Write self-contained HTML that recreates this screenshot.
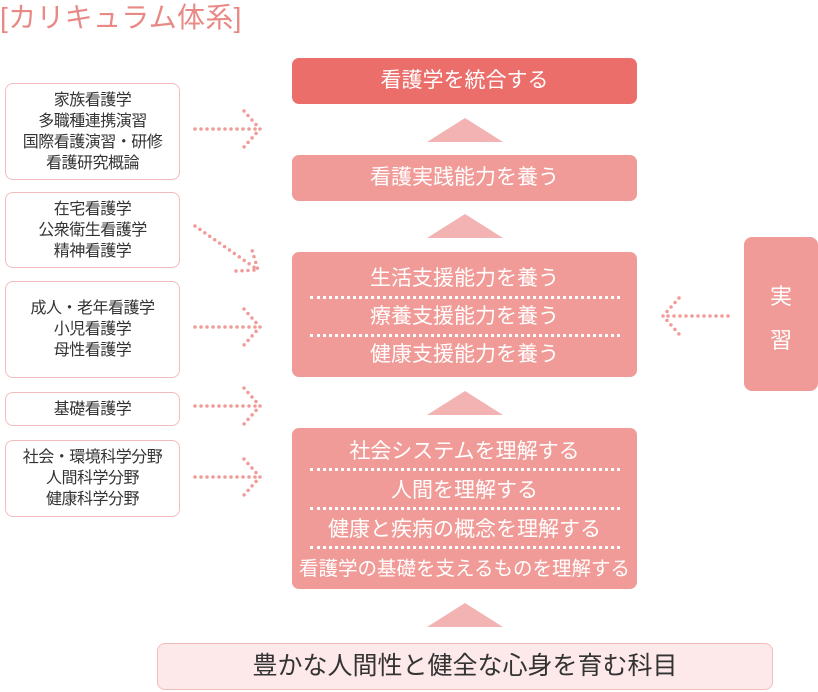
<!DOCTYPE html>
<html><head><meta charset="utf-8"><style>
*{margin:0;padding:0;box-sizing:border-box}
body{width:818px;height:692px;background:#fff;position:relative;overflow:hidden;font-family:"Liberation Sans","Noto Sans CJK JP",sans-serif}
.a{position:absolute}
.title{left:0;top:-4px;font-size:28px;color:#e98986;white-space:nowrap;letter-spacing:0.3px}
.lb{position:absolute;left:5px;width:175px;border:1.5px solid #f3bcbc;border-radius:8px;background:#fff;color:#333;font-size:16px;line-height:21px;text-align:center;display:flex;flex-direction:column;justify-content:center;white-space:nowrap;letter-spacing:-0.5px}
.pb{position:absolute;left:292px;width:345px;background:#f09b97;border-radius:7px;color:#fff;font-size:21px;text-align:center;white-space:nowrap}
.sep{margin:0 auto;width:310px;height:0;border-top:3px dotted #fff}
.tri{position:absolute;width:0;height:0;border-left:38px solid transparent;border-right:38px solid transparent;border-bottom:24px solid #f4b3b3}
</style></head><body>
<div class="a title">[カリキュラム体系]</div>

<div class="lb" style="top:83px;height:97px">家族看護学<br>多職種連携演習<br>国際看護演習・研修<br>看護研究概論</div>
<div class="lb" style="top:192px;height:76px">在宅看護学<br>公衆衛生看護学<br>精神看護学</div>
<div class="lb" style="top:281px;height:97px">成人・老年看護学<br>小児看護学<br>母性看護学</div>
<div class="lb" style="top:392px;height:34px">基礎看護学</div>
<div class="lb" style="top:440px;height:77px">社会・環境科学分野<br>人間科学分野<br>健康科学分野</div>

<svg class="a" style="left:0;top:0" width="818" height="692">
<g stroke="#f09b97" stroke-width="3.5" stroke-linecap="round" stroke-dasharray="0 6" fill="none">
<path d="M195 129H260M244 111L260 129L244 147"/>
<path d="M195 226L258 270M236 271L258 270L252 250"/>
<path d="M195 327H260M244 309L260 327L244 345"/>
<path d="M195 406H260M244 388L260 406L244 424"/>
<path d="M195 477H260M244 459L260 477L244 495"/>
<path d="M728 316H663M679 298L663 316L679 334"/>
</g>
</svg>

<div class="pb" style="top:58px;height:46px;line-height:46px;background:#eb6e6a">看護学を統合する</div>
<div class="tri" style="left:427px;top:118px"></div>
<div class="pb" style="top:155px;height:46px;line-height:46px">看護実践能力を養う</div>
<div class="tri" style="left:427px;top:214px"></div>
<div class="pb" style="top:252px;height:125px;padding-top:14px;line-height:26px">生活支援能力を養う<div class="sep" style="margin-top:4px;margin-bottom:5px"></div>療養支援能力を養う<div class="sep" style="margin-top:4px;margin-bottom:5px"></div>健康支援能力を養う</div>
<div class="tri" style="left:427px;top:391px"></div>
<div class="pb" style="top:428px;height:161px;padding-top:10px;line-height:28px">社会システムを理解する<div class="sep" style="margin-top:2px;margin-bottom:6px"></div>人間を理解する<div class="sep" style="margin-top:2px;margin-bottom:6px"></div>健康と疾病の概念を理解する<div class="sep" style="margin-top:2px;margin-bottom:6px"></div><span style="font-size:19.5px">看護学の基礎を支えるものを理解する</span></div>
<div class="tri" style="left:427px;top:603px"></div>

<div class="a" style="left:744px;top:237px;width:74px;height:154px;background:#f09b97;border-radius:8px;color:#fff;font-size:22px;text-align:center;padding-top:38px;line-height:44px">実<br>習</div>

<div class="a" style="left:157px;top:643px;width:616px;height:47px;background:#fde9ea;border:1.5px solid #f3bcbc;border-radius:8px;color:#333;font-size:25px;text-align:center;line-height:44px">豊かな人間性と健全な心身を育む科目</div>
</body></html>
